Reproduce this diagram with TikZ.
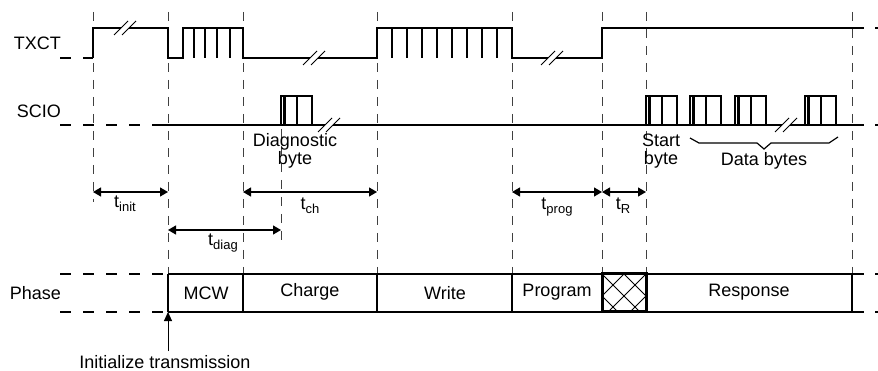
\documentclass[tikz,border=0pt]{standalone}
\usepackage{fontspec}
\setmainfont{Liberation Sans}
\usetikzlibrary{arrows.meta}
\newcommand\tsub[1]{t\raisebox{-4pt}{\fontsize{13}{13}\selectfont #1}}
\newcommand\brkmark[2]{%
  \fill[white] ({#1-4},{#2-3}) rectangle ({#1+4},{#2+3});
  \draw[line width=1pt] ({#1-11},{#2+7}) -- ({#1+3},{#2-7}) ({#1-3},{#2+7}) -- ({#1+11},{#2-7});}
\newcommand\bytemark[1]{%
  \draw[bytebox] (#1,125) -- (#1,96) -- ({#1+31},96) -- ({#1+31},125);
  \draw[bytebox] ({#1+3.5},96) -- ({#1+3.5},125) ({#1+16},96) -- ({#1+16},125);}
\begin{document}
\begin{tikzpicture}[x=1pt,y=-1pt,
  sig/.style={line width=2pt, line join=miter},
  guide/.style={line width=0.9pt, black!75, dash pattern=on 9pt off 8pt},
  lead/.style={line width=2pt, dash pattern=on 11pt off 12pt},
  tarr/.style={line width=1.2pt, {Triangle[length=8pt,width=9pt]}-{Triangle[length=8pt,width=9pt]}},
  lbl/.style={font=\fontsize{18}{18}\selectfont, inner sep=0pt},
  bytebox/.style={line width=2.5pt, line join=miter},
  hatch/.style={line width=0.8pt}
]
\useasboundingbox (0,0) rectangle (878,371);
% guide lines
\foreach \gx/\gt/\gb in {93/12/202, 168/12/274, 243/12/274, 281/95/242, 377/12/274, 512/12/274, 602/12/274, 646/12/274, 852/12/274}
  \draw[guide] (\gx,\gt) -- (\gx,\gb);
% labels left
\node[lbl, anchor=east] (txct) at (61,43) {TXCT};
\node[lbl, anchor=east] (scio) at (61,111) {SCIO};
\node[lbl, anchor=east] (phase) at (61,293) {Phase};
% TXCT signal
\draw[lead] (60,58) -- (93,58);
\draw[sig] (93,58) -- (93,28) -- (168,28) -- (168,58) -- (183,58) -- (183,28) -- (243,28) -- (243,58)
  -- (377,58) -- (377,28) -- (512,28) -- (512,58) -- (602,58) -- (602,28) -- (864,28);
\foreach \x in {194,205,217,230} \draw[sig] (\x,28) -- (\x,58);
\foreach \x in {392,407,422,437,452,467,482,497} \draw[sig] (\x,28) -- (\x,58);
\draw[sig] (875,28) -- (878,28);
\brkmark{125}{28}
\brkmark{314}{58}
\brkmark{552}{58}
% SCIO signal
\draw[lead] (60,125) -- (155,125);
\draw[sig] (155,125) -- (864,125);
\draw[sig] (875,125) -- (878,125);
\bytemark{281}
\bytemark{646}
\bytemark{690}
\bytemark{735}
\bytemark{805}
\brkmark{329}{125}
\brkmark{786}{125}
% brace
\draw[line width=1.2pt] (690,138) -- (699,143) -- (757,143) -- (764,149) -- (771,143) -- (829,143) -- (838,137);
% byte labels
\node[lbl, align=center, font=\fontsize{18}{18}\selectfont] (diag) at (295,151) {Diagnostic\\byte};
\node[lbl, align=center, font=\fontsize{18}{18}\selectfont] (start) at (661,151) {Start\\byte};
\node[lbl] (data) at (764,161) {Data bytes};
% time arrows
\draw[tarr] (93,192) -- (168,192);
\draw[tarr] (243,192) -- (377,192);
\draw[tarr] (168,230) -- (281,230);
\draw[tarr] (512,192) -- (602,192);
\draw[tarr] (602,192) -- (646,192);
\node[lbl] (tinit) at (125,204) {\tsub{init}};
\node[lbl] (tch) at (310,206) {\tsub{ch}};
\node[lbl] (tdiag) at (223,243) {\tsub{diag}};
\node[lbl] (tprog) at (557,207) {\tsub{prog}};
\node[lbl] (tr) at (623,206) {\tsub{R}};
% phase row
\draw[lead] (60,274) -- (168,274);
\draw[lead] (60,312) -- (168,312);
\draw[sig] (168,274) -- (864,274);
\draw[sig] (168,312) -- (864,312);
\draw[sig] (875,274) -- (878,274);
\draw[sig] (875,312) -- (878,312);
\foreach \x in {168,243,377,512,852} \draw[sig] (\x,274) -- (\x,312);
\begin{scope}
  \clip (602,274) rectangle (646,312);
  \foreach \c in {580,602,624,646} \draw[hatch] (\c,274) -- ++(45,45);
  \foreach \c in {602,624,646,668} \draw[hatch] (\c,274) -- ++(-45,45);
\end{scope}
\draw[line width=3pt] (602,274) rectangle (646,312);
\node[lbl] (mcw) at (206,293) {MCW};
\node[lbl] (charge) at (310,292) {Charge};
\node[lbl] (write) at (445,293) {Write};
\node[lbl] (program) at (557,292) {Program};
\node[lbl] (response) at (749,292) {Response};
% initialize
\node[lbl] (init) at (165,362) {Initialize transmission};
\coordinate (inittip) at (168,312);
\draw[line width=1pt, -{Triangle[length=9pt,width=8pt]}] ([yshift=4pt]init.north -| inittip) -- (inittip);
\end{tikzpicture}
\end{document}
